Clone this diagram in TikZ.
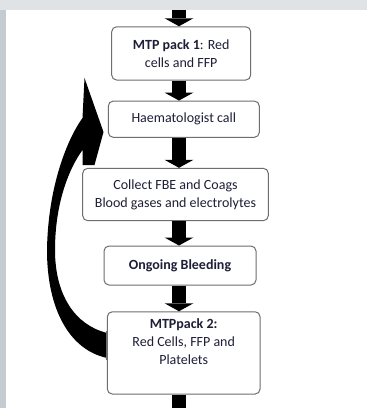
\documentclass[tikz,border=0pt]{standalone}
\usepackage{fontspec}
\setmainfont{Carlito}
\usetikzlibrary{arrows.meta,calc}
\definecolor{topgrey}{HTML}{DFE3E6}
\definecolor{leftgrey}{HTML}{C4CCD0}
\definecolor{boxgrey}{HTML}{6E6E6E}
\definecolor{txt}{HTML}{1E1E38}
\tikzset{
  box/.style={draw=boxgrey, line width=1pt, fill=white, rounded corners=5pt,
    align=center, inner sep=0pt, text=txt, font=\fontsize{14}{18}\selectfont},
  blockarrow/.style={draw=black, line width=14.5pt,
    -{Triangle[width=29pt, length=8pt, line width=0pt]}},
}
\begin{document}
\begin{tikzpicture}[x=1pt, y=-1pt]
  \useasboundingbox (0,0) rectangle (367,408);
  % background
  \fill[topgrey] (0,0) rectangle (367,408);
  \fill[leftgrey] (0,10) rectangle (6,408);
  \fill[white] (6,10) rectangle (367,408);

  % boxes
  \node[box, minimum width=139pt, minimum height=53.3pt] (box1) at (181.2,53.4)
    {\textbf{MTP pack 1}: Red\\cells and FFP};
  \node[box, minimum width=151pt, minimum height=36.3pt] (box2) at (183.8,119.2)
    {Haematologist call};
  \node[box, minimum width=185.6pt, minimum height=52.4pt] (box3) at (175.5,194.5)
    {Collect FBE and Coags\\Blood gases and electrolytes};
  \node[box, minimum width=152pt, minimum height=39pt] (box4) at (180,265.5)
    {\textbf{Ongoing Bleeding}};
  \node[box, minimum width=152.7pt, minimum height=82.3pt] (box5) at (183.7,352.9)
    {\textbf{MTPpack 2:}\\Red Cells, FFP and\\Platelets\\\strut};

  % curved return arrow (box5 -> box2)
  \coordinate (T)  at ($(box2.west)+(-23.3,-41.2)$);
  \coordinate (L1) at ($(box2.west)+(-25.3,-1.2)$);
  \coordinate (R)  at ($(box2.west)+(-4.3,12.8)$);
  \coordinate (C)  at ($(box2.west)+(-13.3,45.8)$);
  \coordinate (N1) at ($(box2.west)+(-25.3,45.8)$);
  \coordinate (N2) at ($(box2.west)+(-25.3,30.8)$);
  \coordinate (B1) at ($(box5.west)+(0,5)$);
  \coordinate (B2) at ($(box5.west)+(0,-20)$);
  \fill[black] (T) -- (L1) .. controls (68,138) and (48,185) .. (47,250)
    .. controls (47,310) and (70,350) .. (B1) -- (B2)
    .. controls (75,325) and (55,295) .. (55,250)
    .. controls (55,205) and (68,170) .. (N2) -- (N1) -- (C) -- (R) -- cycle;
  \draw[boxgrey, line width=1pt] ($(box5.west)+(0,-22)$) -- ($(box5.west)+(0,7)$);

  % straight block arrows
  \coordinate (axis) at (179,0);
  \coordinate (top) at (179,10);
  \coordinate (bottom) at (179,408);
  \draw[blockarrow] (top) -- (box1.north -| axis);
  \draw[blockarrow] (box1.south -| axis) -- (box2.north -| axis);
  \draw[blockarrow] (box2.south -| axis) -- (box3.north -| axis);
  \draw[blockarrow] (box3.south -| axis) -- (box4.north -| axis);
  \draw[blockarrow] (box4.south -| axis) -- (box5.north -| axis);
  \draw[draw=black, line width=14.5pt] (box5.south -| axis) -- (bottom);
\end{tikzpicture}
\end{document}
